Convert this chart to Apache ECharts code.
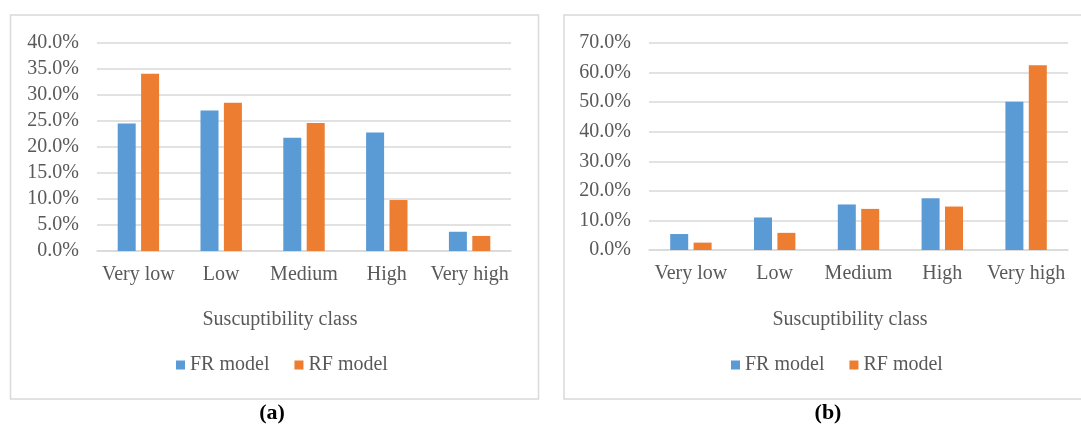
<!DOCTYPE html>
<html>
<head>
<meta charset="utf-8">
<script src="https://cdn.jsdelivr.net/npm/echarts@6/dist/echarts.min.js"></script>
<style>
  html, body { margin: 0; padding: 0; background: #fff; }
  #chart { width: 1081px; height: 429px; }
</style>
</head>
<body>
<div id="chart"></div>
<script>
// Susceptibility classes shared by both panels
const categories = ['Very low', 'Low', 'Medium', 'High', 'Very high'];
const seriesNames = ['FR model', 'RF model'];

// Panel (a): share of each class (%)
const frA = [24.5, 27.0, 21.8, 22.8, 3.7];
const rfA = [34.1, 28.5, 24.6, 9.8, 2.9];

// Panel (b): share of each class (%)
const frB = [5.4, 11.0, 15.4, 17.5, 50.1];
const rfB = [2.5, 5.8, 13.9, 14.7, 62.5];

// Value axis ranges
const axisA = { max: 40, interval: 5 };
const axisB = { max: 70, interval: 10 };

const axisTitle = 'Suscuptibility class';
const panelLabels = ['(a)', '(b)'];

const FONT = "'Liberation Serif', 'Times New Roman', serif";
const TEXT = '#595959';
const GRID = '#d9d9d9';
const BLUE = '#5B9BD5';
const ORANGE = '#ED7D31';

function xAxis(gridIndex) {
  return {
    type: 'category', gridIndex, data: categories,
    axisLine: { lineStyle: { color: GRID, width: 1.5 } },
    axisTick: { show: false },
    axisLabel: { interval: 0, color: TEXT, fontFamily: FONT, fontSize: 20, margin: 14 }
  };
}
function yAxis(gridIndex, cfg) {
  return {
    type: 'value', gridIndex, min: 0, max: cfg.max, interval: cfg.interval,
    axisLine: { show: false }, axisTick: { show: false },
    splitLine: { lineStyle: { color: GRID, width: 1.5 } },
    axisLabel: {
      color: TEXT, fontFamily: FONT, fontSize: 20, margin: 18,
      formatter: v => v.toFixed(1) + '%'
    }
  };
}
function bars(name, data, color, idx) {
  return {
    type: 'bar', name, data, xAxisIndex: idx, yAxisIndex: idx,
    barWidth: 18, barGap: '30%',
    itemStyle: { color }
  };
}
function legend(left) {
  return {
    data: seriesNames, left, top: 355, padding: 0,
    itemWidth: 9, itemHeight: 9, itemGap: 25,
    icon: 'rect',
    textStyle: { color: TEXT, fontFamily: FONT, fontSize: 20, padding: [0, 0, 0, 0] }
  };
}
function centeredText(text, x, y, extra) {
  return {
    type: 'text', x, y, silent: true,
    style: Object.assign({
      text, fill: TEXT, font: '20px ' + FONT,
      textAlign: 'center', textVerticalAlign: 'middle'
    }, extra || {})
  };
}

const chart = echarts.init(document.getElementById('chart'), null, { renderer: 'canvas' });
chart.setOption({
  animation: false,
  grid: [
    { left: 97, right: 570, top: 43, bottom: 178 },
    { left: 649, right: 13, top: 43, bottom: 179 }
  ],
  xAxis: [xAxis(0), xAxis(1)],
  yAxis: [yAxis(0, axisA), yAxis(1, axisB)],
  legend: [legend(176), legend(731)],
  series: [
    bars(seriesNames[0], frA, BLUE, 0),
    bars(seriesNames[1], rfA, ORANGE, 0),
    bars(seriesNames[0], frB, BLUE, 1),
    bars(seriesNames[1], rfB, ORANGE, 1)
  ],
  graphic: [
    { type: 'rect', silent: true, shape: { x: 10.5, y: 15, width: 528, height: 384 },
      style: { fill: 'none', stroke: GRID, lineWidth: 1.5 } },
    { type: 'rect', silent: true, shape: { x: 564, y: 15, width: 600, height: 384 },
      style: { fill: 'none', stroke: GRID, lineWidth: 1.5 } },
    centeredText(axisTitle, 280, 320),
    centeredText(axisTitle, 850, 320),
    centeredText(panelLabels[0], 272, 413, { fill: '#000', font: 'bold 22px ' + FONT }),
    centeredText(panelLabels[1], 828, 413, { fill: '#000', font: 'bold 22px ' + FONT })
  ]
});
</script>
</body>
</html>
